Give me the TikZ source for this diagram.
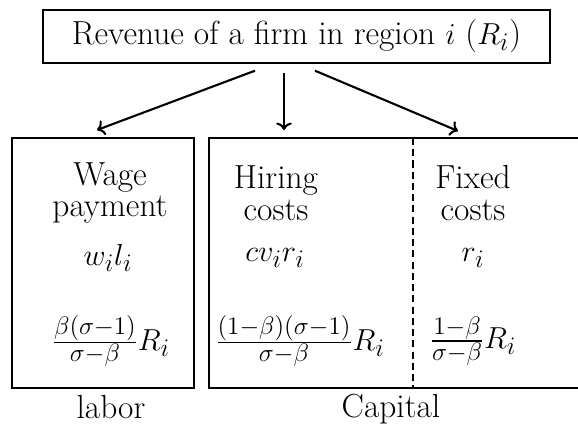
\documentclass[tikz,border=0pt]{standalone}
\usepackage{amsmath,amssymb}
\usepackage{tikz}
\usetikzlibrary{arrows.meta,positioning,calc}

\begin{document}
\begin{tikzpicture}[x=0.02cm, y=-0.02cm,
    lbl/.style={font=\fontsize{19}{18}\selectfont, align=center, inner sep=0pt},
    arr/.style={->, line width=1.2pt},
    box/.style={draw, line width=0.8pt, inner sep=0pt}]
    \useasboundingbox (0,0) rectangle (578,423);
    % Top box
    \node[box, lbl, minimum width=10.14cm, minimum height=1.06cm] (rev) at (296.5,36.5)
      {Revenue of a firm in region $i$ ($R_i$)};
    % Labor box
    \node[box, minimum width=3.64cm, minimum height=5cm] (labbox) at (103,263) {};
    % Capital box (runs off the right edge)
    \coordinate (captl) at (209,138);
    \coordinate (capbl) at (209,388);
    \draw[line width=0.8pt] (578,138) -- (captl) -- (capbl) -- (578,388);
    % Split between hiring and fixed costs
    \coordinate (splittop) at (413,138);
    \coordinate (splitbot) at (413,388);
    \draw[line width=1.1pt, dash pattern=on 4pt off 2.4pt] (splittop) -- (splitbot);
    % Arrow ends
    \coordinate (to-lab) at (97,130);
    \coordinate (to-hir) at (284,130);
    \coordinate (to-fix) at (458,131);
    \draw[arr] ($(rev.south)+(-41.5,7)$) -- (to-lab);
    \draw[arr] ($(rev.south)+(-12.5,9)$) -- (to-hir);
    \draw[arr] ($(rev.south)+(18.5,7)$) -- (to-fix);
    % Wage payment
    \node[lbl] (wage) at (110,193) {Wage\\payment};
    \node[lbl] (wagev) at (108,258) {$w_il_i$};
    \node[lbl] (wagesh) at (111,341) {$\frac{\beta(\sigma-1)}{\sigma-\beta}R_i$};
    % Hiring costs
    \node[lbl] (hire) at (276,193) {Hiring\\costs};
    \node[lbl] (hirev) at (275,258) {$cv_ir_i$};
    \node[lbl] (hiresh) at (300,341) {$\frac{(1-\beta)(\sigma-1)}{\sigma-\beta}R_i$};
    % Fixed costs
    \node[lbl] (fix) at (473,193) {Fixed\\costs};
    \node[lbl] (fixv) at (473,258) {$r_i$};
    \node[lbl] (fixsh) at (473,341) {$\frac{1-\beta}{\sigma-\beta}R_i$};
    % Bottom labels
    \node[lbl, anchor=base] (labor) at (111,418) {labor};
    \node[lbl, anchor=base] (capital) at (391,417) {Capital};
\end{tikzpicture}
\end{document}
